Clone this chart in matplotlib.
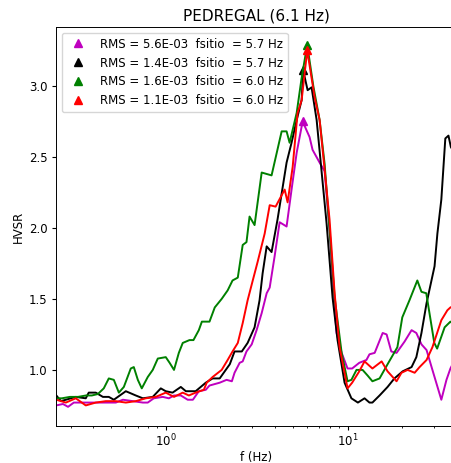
import matplotlib
matplotlib.use("Agg")
import matplotlib.pyplot as plt

# HVSR curves (frequency in Hz, amplitude)
f_mag = [0.25, 0.272, 0.29, 0.312, 0.363, 0.412, 0.468, 0.531, 0.581, 0.659, 0.748, 0.796,
         0.859, 0.963, 1.04, 1.11, 1.21, 1.32, 1.41, 1.52, 1.66, 1.74, 1.98, 2.16, 2.31, 2.39,
         2.55, 2.65, 2.78, 2.97, 3.16, 3.37, 3.59, 3.73, 3.97, 4.23, 4.62, 4.92, 5.25, 5.66,
         6.18, 6.42, 7.02, 7.48, 8.0, 8.3, 8.70, 9.28, 10.0, 10.6, 11.6, 12.7, 13.2, 14.1,
         15.6, 16.4, 17.4, 18.6, 20.6, 22.5, 23.9, 25.5, 27.2, 29.3, 32.8, 35.0, 36.8, 40.0]
v_mag = [0.75, 0.76, 0.74, 0.77, 0.77, 0.77, 0.77, 0.77, 0.79, 0.78, 0.77, 0.77,
         0.80, 0.81, 0.80, 0.82, 0.82, 0.79, 0.79, 0.85, 0.86, 0.89, 0.91, 0.93, 0.92, 0.98,
         1.05, 1.06, 1.13, 1.18, 1.28, 1.40, 1.54, 1.58, 1.80, 2.04, 2.01, 2.27, 2.53, 2.75,
         2.64, 2.55, 2.46, 2.40, 1.95, 1.60, 1.26, 1.12, 1.01, 1.01, 1.05, 1.07, 1.11, 1.12,
         1.26, 1.25, 1.13, 1.12, 1.20, 1.28, 1.26, 1.18, 1.14, 1.00, 0.79, 0.93, 1.01, 1.10]

f_blk = [0.25, 0.265, 0.32, 0.363, 0.377, 0.412, 0.451, 0.486, 0.518, 0.603, 0.684, 0.748,
         0.848, 0.939, 1.0, 1.09, 1.21, 1.29, 1.46, 1.66, 1.81, 1.98, 2.25, 2.39, 2.62, 2.82,
         3.08, 3.28, 3.41, 3.59, 3.82, 4.12, 4.62, 4.92, 5.25, 5.59, 5.7, 6.03, 6.34, 6.76,
         7.67, 8.27, 8.81, 9.63, 10.5, 11.4, 12.4, 13.2, 13.7, 15.0, 16.6, 18.1, 20.1, 22.5,
         23.9, 25.5, 27.2, 30.1, 31.2, 32.8, 34.5, 35.9, 37.0, 40.0]
v_blk = [0.82, 0.78, 0.81, 0.80, 0.84, 0.84, 0.81, 0.81, 0.79, 0.85, 0.82, 0.80,
         0.81, 0.87, 0.85, 0.84, 0.88, 0.85, 0.85, 0.91, 0.94, 0.94, 1.04, 1.13, 1.13, 1.19,
         1.30, 1.49, 1.68, 1.87, 1.83, 2.06, 2.46, 2.60, 2.76, 2.90, 3.11, 2.97, 2.99, 2.76,
         2.03, 1.51, 1.21, 0.91, 0.80, 0.77, 0.80, 0.77, 0.77, 0.82, 0.88, 0.94, 0.99, 1.02,
         1.09, 1.26, 1.47, 1.73, 1.96, 2.20, 2.63, 2.65, 2.57, 2.50]

f_grn = [0.25, 0.268, 0.297, 0.329, 0.364, 0.392, 0.423, 0.456, 0.486, 0.518, 0.552, 0.588,
         0.642, 0.667, 0.702, 0.738, 0.796, 0.848, 0.904, 1.0, 1.05, 1.11, 1.18, 1.24, 1.35,
         1.42, 1.52, 1.58, 1.74, 1.86, 2.03, 2.19, 2.33, 2.49, 2.65, 2.78, 2.89, 3.08, 3.37,
         3.82, 4.34, 4.62, 4.80, 5.25, 5.58, 6.0, 6.48, 7.02, 7.48, 7.96, 8.49, 9.28, 10.0,
         10.5, 11.2, 12.1, 12.9, 13.7, 15.0, 16.6, 18.8, 20.0, 21.9, 24.2, 25.5, 27.1, 30.0,
         31.1, 34.2, 36.8, 40.0]
v_grn = [0.80, 0.80, 0.81, 0.81, 0.82, 0.82, 0.83, 0.87, 0.94, 0.93, 0.84, 0.88,
         1.01, 1.02, 0.93, 0.87, 0.95, 1.00, 1.08, 1.09, 1.05, 1.00, 1.12, 1.19, 1.21,
         1.21, 1.28, 1.34, 1.34, 1.44, 1.50, 1.56, 1.63, 1.65, 1.88, 1.90, 2.08, 2.02, 2.39,
         2.37, 2.68, 2.68, 2.60, 2.81, 3.05, 3.29, 3.00, 2.76, 2.45, 1.99, 1.51, 1.12, 0.92,
         0.93, 1.00, 1.00, 0.96, 0.92, 0.94, 1.04, 1.16, 1.37, 1.49, 1.63, 1.55, 1.54, 1.19,
         1.15, 1.30, 1.34, 1.30]

f_red = [0.25, 0.282, 0.320, 0.363, 0.412, 0.468, 0.531, 0.603, 0.684, 0.776, 0.881, 1.0,
         1.11, 1.24, 1.34, 1.46, 1.62, 1.68, 1.81, 2.03, 2.19, 2.33, 2.49, 2.65, 2.82, 3.01,
         3.20, 3.50, 3.73, 4.02, 4.34, 4.51, 4.68, 4.99, 5.31, 5.59, 6.0, 6.59, 7.02, 7.48,
         7.96, 8.49, 9.04, 10.0, 10.6, 11.6, 12.4, 13.7, 15.4, 16.6, 18.6, 19.8, 21.4, 23.4,
         24.9, 27.2, 29.3, 32.8, 35.4, 36.8, 40.0]
v_red = [0.79, 0.77, 0.80, 0.75, 0.77, 0.78, 0.78, 0.77, 0.78, 0.80, 0.81, 0.84,
         0.81, 0.84, 0.82, 0.84, 0.86, 0.91, 0.95, 1.00, 1.07, 1.13, 1.19, 1.33, 1.49, 1.63,
         1.76, 1.96, 2.16, 2.15, 2.23, 2.27, 2.18, 2.43, 2.81, 2.90, 3.25, 2.92, 2.76, 2.41,
         2.06, 1.54, 1.16, 0.87, 0.91, 0.99, 1.06, 1.01, 1.06, 0.99, 0.92, 0.98, 1.00, 0.98,
         1.02, 1.07, 1.16, 1.35, 1.42, 1.44, 1.46]

colors = ["m", "k", "g", "r"]
rms = ["5.6E-03", "1.4E-03", "1.6E-03", "1.1E-03"]
fsitio = [5.7, 5.7, 6.0, 6.0]
peaks = [2.75, 3.11, 3.29, 3.25]

# original figure looks like a ~0.85x downscale of default styling
plt.rcParams.update({
    "font.size": 8.5,
    "axes.linewidth": 0.7,
    "axes.labelpad": 3,
    "xtick.major.size": 3, "ytick.major.size": 3,
    "xtick.minor.size": 1.7, "ytick.minor.size": 1.7,
    "xtick.major.pad": 2, "ytick.major.pad": 3,
    "xtick.minor.pad": 2,
})

fig = plt.figure(figsize=(4.51, 4.63), dpi=100)
ax = fig.add_axes([56 / 451, 37 / 463, 401 / 451, 399 / 463])

curves = [(f_mag, v_mag), (f_blk, v_blk), (f_grn, v_grn), (f_red, v_red)]
for (f, v), c, r, fs, pk in zip(curves, colors, rms, fsitio, peaks):
    ax.plot(f, v, color=c, lw=1.4)
    ax.plot(fs, pk, "^", color=c, ms=6,
            label="RMS = %s  fsitio  = %.1f Hz" % (r, fs))

ax.set_xscale("log")
ax.set_xlim(0.249, 40)
ax.set_ylim(0.605, 3.415)
ax.set_yticks([1.0, 1.5, 2.0, 2.5, 3.0])
ax.set_title("PEDREGAL (6.1 Hz)", fontsize=11, pad=5)
ax.set_xlabel("f (Hz)", labelpad=1)
ax.set_ylabel("HVSR")
ax.legend(loc="upper left")

fig.savefig("out.png", dpi=100)
